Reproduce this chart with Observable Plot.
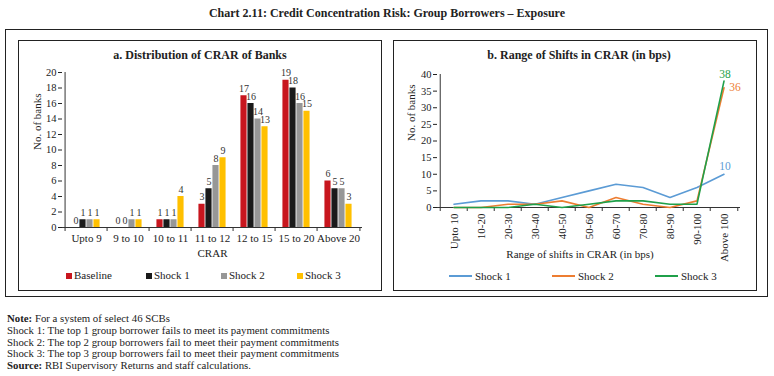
<!DOCTYPE html>
<html>
<head>
<meta charset="utf-8">
<script src="https://cdn.jsdelivr.net/npm/d3@7"></script>
<script src="https://cdn.jsdelivr.net/npm/@observablehq/plot@0.6"></script>
<style>
  html, body { margin: 0; padding: 0; background: #fff; }
  body { width: 774px; height: 376px; position: relative; overflow: hidden; font-family: "Liberation Serif", serif; color: #222; }
  .box { position: absolute; border: 1px solid #222; box-sizing: border-box; }
  .title { position: absolute; font-weight: bold; white-space: nowrap; transform: translate(-50%, -50%); }
  .leg { position: absolute; font-size: 11px; white-space: nowrap; transform: translateY(-50%); }
  .sq { display: inline-block; width: 6px; height: 6px; margin-right: 2px; vertical-align: 0px; }
  .ln { display: inline-block; width: 23px; height: 2px; margin-right: 3px; vertical-align: 3px; }
  .note { position: absolute; left: 7px; font-size: 10.8px; white-space: nowrap; transform: translateY(-50%); }
</style>
</head>
<body>
<div id="root"></div>
<script>
// ---------- Data ----------
const chartTitle = "Chart 2.11: Credit Concentration Risk: Group Borrowers \u2013 Exposure";
const titleA = "a. Distribution of CRAR of Banks";
const titleB = "b. Range of Shifts in CRAR (in bps)";

const categoriesA = ["Upto 9", "9 to 10", "10 to 11", "11 to 12", "12 to 15", "15 to 20", "Above 20"];
const seriesA = ["Baseline", "Shock 1", "Shock 2", "Shock 3"];
const baselineA = [0, 0, 1, 3, 17, 19, 6];
const shock1A = [1, 0, 1, 5, 16, 18, 5];
const shock2A = [1, 1, 1, 8, 14, 16, 5];
const shock3A = [1, 1, 4, 9, 13, 15, 3];
const yTicksA = [0, 2, 4, 6, 8, 10, 12, 14, 16, 18, 20];
const colorsA = ["#C8161E", "#1A1A1A", "#979797", "#FFC000"];

const categoriesB = ["Upto 10", "10-20", "20-30", "30-40", "40-50", "50-60", "60-70", "70-80", "80-90", "90-100", "Above 100"];
const seriesB = ["Shock 1", "Shock 2", "Shock 3"];
const shock1B = [1, 2, 2, 1, 3, 5, 7, 6, 3, 6, 10];
const shock2B = [0, 0, 1, 1, 2, 0, 3, 1, 0, 2, 36];
const shock3B = [0, 0, 0, 1, 0, 1, 2, 2, 1, 1, 38];
const yTicksB = [0, 5, 10, 15, 20, 25, 30, 35, 40];
const colorsB = ["#5B9BD5", "#ED7D31", "#1FA04A"];

const noteLines = [
  ["Note:", " For a system of select 46 SCBs"],
  ["", "Shock 1: The top 1 group borrower fails to meet its payment commitments"],
  ["", "Shock 2: The top 2 group borrowers fail to meet their payment commitments"],
  ["", "Shock 3: The top 3 group borrowers fail to meet their payment commitments"],
  ["Source:", " RBI Supervisory Returns and staff calculations."]
];

// ---------- Layout helpers ----------
const root = document.getElementById("root");
function add(html) { root.insertAdjacentHTML("beforeend", html); }

add(`<div class="title" style="left:387px;top:13px;font-size:12px;">${chartTitle}</div>`);
add(`<div class="box" style="left:5px;top:29px;width:763px;height:268px;"></div>`);
add(`<div class="box" style="left:18px;top:40px;width:364px;height:251px;"></div>`);
add(`<div class="box" style="left:393px;top:40px;width:364px;height:251px;"></div>`);
add(`<div class="title" style="left:200px;top:55px;font-size:12px;">${titleA}</div>`);
add(`<div class="title" style="left:579px;top:55px;font-size:12px;">${titleB}</div>`);

const baseStyle = {fontFamily: "Liberation Serif, serif", fontSize: "10.5px", color: "#222", background: "transparent", overflow: "visible"};

// ---------- Panel a ----------
const valuesA = [baselineA, shock1A, shock2A, shock3A];
const rowsA = seriesA.map((s, si) => categoriesA.map((c, ci) => ({cat: c, series: s, value: valuesA[si][ci]})));
const wA = 370, mlA = 50, mrA = 20;
const bwA = (wA - mlA - mrA) / categoriesA.length;
const barW = 7;
const groupW = barW * seriesA.length;

const marksA = [];
seriesA.forEach((s, si) => {
  const il = (bwA - groupW) / 2 + barW * si;
  marksA.push(Plot.barY(rowsA[si], {x: "cat", y: "value", fill: colorsA[si], insetLeft: il, insetRight: bwA - il - barW}));
});
seriesA.forEach((s, si) => {
  marksA.push(Plot.text(rowsA[si], {x: "cat", y: "value", text: d => String(d.value), dx: -groupW / 2 + barW * (si + 0.5), dy: -7, fontSize: 10, fill: "#333"}));
});
marksA.push(Plot.ruleY([0], {stroke: "#333"}));
marksA.push(Plot.ruleX([categoriesA[0]], {y1: 0, y2: 20, dx: -bwA / 2, stroke: "#333"}));
marksA.push(Plot.ruleX(categoriesA, {y1: 0, y2: 0, insetBottom: -4, dx: -bwA / 2, stroke: "#333"}));
marksA.push(Plot.ruleX([categoriesA[categoriesA.length - 1]], {y1: 0, y2: 0, insetBottom: -4, dx: bwA / 2, stroke: "#333"}));
marksA.push(Plot.axisY({ticks: yTicksA, tickSize: 4, tickPadding: 2, label: null, fontSize: 10.5}));
marksA.push(Plot.axisX({tickSize: 0, tickPadding: 7, label: null, fontSize: 11}));
marksA.push(Plot.text(["No. of banks"], {frameAnchor: "left", rotate: -90, dx: -25, fontSize: 11}));
marksA.push(Plot.text(["CRAR"], {frameAnchor: "bottom", dy: 29, fontSize: 11}));

const plotA = Plot.plot({
  width: wA, height: 205, marginLeft: mlA, marginRight: mrA, marginTop: 10, marginBottom: 40,
  style: baseStyle,
  x: {type: "band", domain: categoriesA, padding: 0},
  y: {domain: [0, 20]},
  marks: marksA
});
plotA.style.position = "absolute"; plotA.style.left = "12px"; plotA.style.top = "62px";
root.appendChild(plotA);

// legend a
const legAx = [66, 146, 221, 297];
seriesA.forEach((s, i) => {
  add(`<div class="leg" style="left:${legAx[i]}px;top:275px;"><span class="sq" style="background:${colorsA[i]}"></span>${s}</div>`);
});

// ---------- Panel b ----------
const valuesB = [shock1B, shock2B, shock3B];
const rowsB = seriesB.map((s, si) => categoriesB.map((c, ci) => ({cat: c, series: s, value: valuesB[si][ci]})));
const wB = 370, mlB = 47, mrB = 20;
const bwB = (wB - mlB - mrB) / categoriesB.length;
const endLabelOffsets = [[1, -8], [11, 0], [1, -7]];

const marksB = [];
marksB.push(Plot.ruleY([0], {stroke: "#333"}));
marksB.push(Plot.ruleX([categoriesB[0]], {y1: 0, y2: 40, dx: -bwB / 2, stroke: "#333"}));
marksB.push(Plot.ruleX(categoriesB, {y1: 0, y2: 0, insetBottom: -4, dx: -bwB / 2, stroke: "#333"}));
marksB.push(Plot.ruleX([categoriesB[categoriesB.length - 1]], {y1: 0, y2: 0, insetBottom: -4, dx: bwB / 2, stroke: "#333"}));
seriesB.forEach((s, si) => {
  marksB.push(Plot.line(rowsB[si], {x: "cat", y: "value", stroke: colorsB[si], strokeWidth: 1.6}));
});
seriesB.forEach((s, si) => {
  const last = rowsB[si][rowsB[si].length - 1];
  marksB.push(Plot.text([last], {x: "cat", y: "value", text: d => String(d.value), fill: colorsB[si], dx: endLabelOffsets[si][0], dy: endLabelOffsets[si][1], fontSize: 11.5}));
});
marksB.push(Plot.axisY({ticks: yTicksB, tickSize: 4, tickPadding: 2, label: null, fontSize: 10.5}));
marksB.push(Plot.axisX({tickSize: 0, tickPadding: 6, tickRotate: -90, label: null, fontSize: 11}));
marksB.push(Plot.text(["No. of banks"], {frameAnchor: "left", rotate: -90, dx: -26, fontSize: 11}));
marksB.push(Plot.text(["Range of shifts in CRAR (in bps)"], {frameAnchor: "bottom", dy: 50, dx: -9, fontSize: 11}));

const plotB = Plot.plot({
  width: wB, height: 208, marginLeft: mlB, marginRight: mrB, marginTop: 10, marginBottom: 65,
  style: baseStyle,
  x: {type: "band", domain: categoriesB, padding: 0},
  y: {domain: [0, 40]},
  marks: marksB
});
plotB.style.position = "absolute"; plotB.style.left = "390px"; plotB.style.top = "64px";
root.appendChild(plotB);

const legBx = [449, 552, 655];
seriesB.forEach((s, i) => {
  add(`<div class="leg" style="left:${legBx[i]}px;top:276px;"><span class="ln" style="background:${colorsB[i]}"></span>${s}</div>`);
});

// ---------- Notes ----------
const noteY = [318, 330, 342, 353, 365];
noteLines.forEach((l, i) => {
  add(`<div class="note" style="top:${noteY[i]}px;"><b>${l[0]}</b>${l[1]}</div>`);
});
</script>
</body>
</html>
